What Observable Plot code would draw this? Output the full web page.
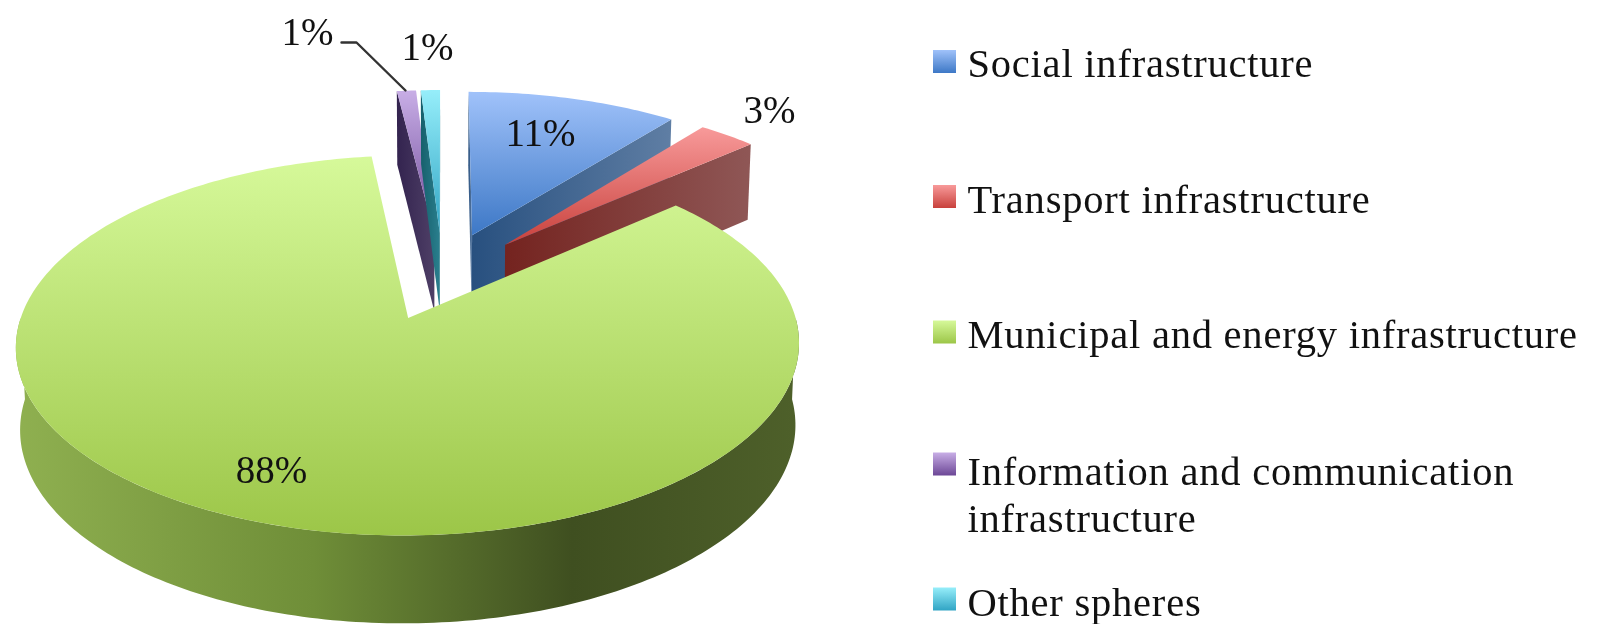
<!DOCTYPE html>
<html><head><meta charset="utf-8">
<script src="https://cdn.jsdelivr.net/npm/d3@7"></script>
<script src="https://cdn.jsdelivr.net/npm/@observablehq/plot@0.6"></script>
<style>html,body{margin:0;padding:0;background:#fff}svg{display:block;filter:blur(.55px)}.legend-text text{letter-spacing:.78px}</style>
</head><body><div id="chart"></div><script>
const categories=["Social infrastructure","Transport infrastructure","Municipal and energy infrastructure","Information and communication\ninfrastructure","Other spheres"];
const values=[11,3,88,1,1];
const labels=["11%","3%","88%","1%","1%"];
const ids=["social","transport","municipal","info","other"];
const topStops=[["#a0c2fa","#3d78c6"],["#f89a9a","#c8413c"],["#d6f99a","#9cc648"],["#c8aee6","#6c4796"],["#96eefa","#30a4c4"]];
const wallStops=[["#28507f","#5f7ea4"],["#74231f","#8f5756"],["#8fb050","#6f8e38","#3f4f20","#4e602a"],["#33234f","#4e3f66"],["#16606c","#2a7f8e"]];

// projection of the pie plane
const W=1599,H=624,Cx=442,Cy=302,A=379,B=178,h=.14,ex=.25,D=80;
const s=Math.sqrt(1-h*h),rad=Math.PI/180;
const total=d3.sum(values);
function proj(u,v,down){
  const q=1+h*v;
  return {x:u*s/q*(down?.99:1),y:(v+h)/q-(down?D/Math.sqrt(q)/B:0)};
}
const px=x=>(x-Cx)/A, py=y=>(Cy-y)/B;

let acc=0;
const slices=values.map((val,i)=>{
  const a0=acc*360/total; acc+=val; const a1=acc*360/total;
  const m=(a0+a1)/2*rad;
  const ey=Math.cos(m)>0?.265:.24;
  return {i,a0,a1,ox:ex*Math.sin(m),oy:ey*Math.cos(m)};
});
const rim=(sl,a)=>[sl.ox+Math.sin(a*rad),sl.oy+Math.cos(a*rad)];
const arc=(sl,from,to)=>d3.range(0,1.0001,1/Math.max(2,Math.ceil(Math.abs(to-from)))).map(t=>from+(to-from)*t);

function topPoly(sl){
  return [proj(sl.ox,sl.oy),...arc(sl,sl.a0,sl.a1).map(a=>proj(...rim(sl,a))),proj(sl.ox,sl.oy)];
}
function face(sl,a){
  const [u,v]=rim(sl,a);
  return [proj(sl.ox,sl.oy),proj(u,v),proj(u,v,true),proj(sl.ox,sl.oy,true)];
}
function outer(sl,from,to){
  const as=arc(sl,from,to);
  return [...as.map(a=>proj(...rim(sl,a))),...as.slice().reverse().map(a=>proj(...rim(sl,a),true))];
}
const poly=(pts,fill)=>Plot.line(pts,{x:"x",y:"y",fill,stroke:"none",curve:"linear"});

const sliceMarks=[];
for(const i of [3,4,0,1,2]){
  const sl=slices[i];
  const wall=`url(#wall-${ids[i]})`;
  if(Math.cos((sl.a0-90)*rad)<=.001) sliceMarks.push(poly(face(sl,sl.a0),wall));
  if(Math.cos((sl.a1+90)*rad)<=.001) sliceMarks.push(poly(face(sl,sl.a1),wall));
  const from=Math.max(sl.a0,90),to=Math.min(sl.a1,270);
  if(to>from) sliceMarks.push(poly(outer(sl,from,to),wall));
  sliceMarks.push(poly(topPoly(sl),`url(#top-${ids[i]})`));
}

function defs(){
  const d=d3.create("svg:defs");
  ids.forEach((id,i)=>{
    const t=d.append("linearGradient").attr("id","top-"+id).attr("x1",0).attr("y1",0).attr("x2",0).attr("y2",1);
    topStops[i].forEach((c,k)=>t.append("stop").attr("offset",k).attr("stop-color",c));
    const g=d.append("linearGradient").attr("id","wall-"+id);
    const offs=wallStops[i].length===4?[0,.38,.71,1]:[0,1];
    wallStops[i].forEach((c,k)=>g.append("stop").attr("offset",offs[k]).attr("stop-color",c));
    const k=d.append("linearGradient").attr("id","key-"+id).attr("x1",0).attr("y1",0).attr("x2",0).attr("y2",1);
    topStops[i].forEach((c,j)=>k.append("stop").attr("offset",j).attr("stop-color",c));
  });
  return d.node();
}

const font="Liberation Serif";
const pieLabel=(i,x,y,size=39)=>Plot.text([labels[i]],{x:()=>px(x),y:()=>py(y),text:d=>d,fontSize:size,fill:"#111",fontFamily:font});
const keyY=[61.5,196.5,332,464,599], textY=[61,197,332,493,600];
const legendMarks=categories.flatMap((c,i)=>[
  Plot.rect([c],{x1:()=>px(933),x2:()=>px(956),y1:()=>py(keyY[i]-11.5),y2:()=>py(keyY[i]+11.5),fill:`url(#key-${ids[i]})`}),
  Plot.text([c],{x:()=>px(967),y:()=>py(textY[i]),text:d=>d,textAnchor:"start",fontSize:40.5,lineHeight:1.16,fill:"#111",fontFamily:font,className:"legend-text"})
]);

const chart=Plot.plot({
  width:W,height:H,margin:0,
  style:{background:"transparent"},
  x:{axis:null,domain:[px(0),px(W)],range:[0,W]},
  y:{axis:null,domain:[py(0),py(H)],range:[0,H]},
  marks:[
    defs,
    ...sliceMarks,
    Plot.line([[341,42],[356,42],[405,90]],{x:d=>px(d[0]),y:d=>py(d[1]),stroke:"#333",strokeWidth:2.4}),
    pieLabel(0,540,133),pieLabel(1,769,110),pieLabel(2,271,470),pieLabel(3,307,32),pieLabel(4,427,47),
    ...legendMarks
  ]
});
document.getElementById("chart").append(chart);
</script></body></html>
